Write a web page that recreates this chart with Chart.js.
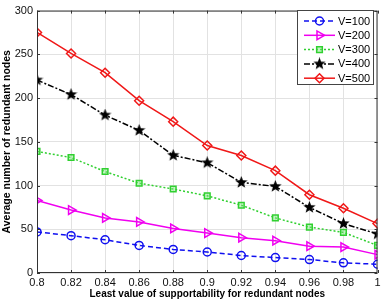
<!DOCTYPE html>
<html>
<head>
<meta charset="utf-8">
<script src="https://cdn.jsdelivr.net/npm/chart.js@4/dist/chart.umd.min.js"></script>
<style>
html,body{margin:0;padding:0;background:#fff;}
#wrap{width:385px;height:302px;position:relative;}
</style>
</head>
<body>
<div id="wrap"><canvas id="c" width="385" height="302"></canvas></div>
<script>
const xValues = [0.8, 0.82, 0.84, 0.86, 0.88, 0.9, 0.92, 0.94, 0.96, 0.98, 1.0];
const seriesNames = ["V=100", "V=200", "V=300", "V=400", "V=500"];
const v100 = [47, 42.7, 38, 31.5, 27, 24, 20, 17.6, 15.4, 11.6, 10];
const v200 = [83, 72, 63, 58.4, 51, 45.7, 40.4, 37, 30.7, 29.6, 21];
const v300 = [139, 132, 116, 102.6, 96, 88.2, 77.5, 63, 52.5, 46.4, 31.5];
const v400 = [220.6, 204, 180.5, 163, 134.5, 126, 103.5, 99, 75, 56.5, 44.6];
const v500 = [275, 251, 229, 197, 173, 145.7, 134.3, 117, 89.5, 74, 56.5];
const yTicks = [0, 50, 100, 150, 200, 250, 300];

function makeStar(size, color) {
  const cv = document.createElement('canvas');
  cv.width = size; cv.height = size;
  const g = cv.getContext('2d');
  const cx = size / 2, cy = size / 2, R = size / 2, r = R * 0.42;
  g.beginPath();
  for (let i = 0; i < 10; i++) {
    const a = -Math.PI / 2 + i * Math.PI / 5;
    const rr = i % 2 === 0 ? R : r;
    const px = cx + rr * Math.cos(a), py = cy + rr * Math.sin(a);
    if (i === 0) g.moveTo(px, py); else g.lineTo(px, py);
  }
  g.closePath();
  g.fillStyle = color; g.fill();
  return cv;
}
const starImg = makeStar(13, '#000');

const toPts = arr => arr.map((v, i) => ({x: xValues[i], y: v}));

const styles = [
  {color: '#1010f0', dash: [5, 3], point: 'circle', radius: 4, rot: 0, bg: 'rgba(0,0,0,0)'},
  {color: '#f000f0', dash: [], point: 'triangle', radius: 5, rot: 90, bg: 'rgba(0,0,0,0)'},
  {color: '#30d030', dash: [2, 2], point: 'rect', radius: 4, rot: 0, bg: 'rgba(120,230,120,0.45)'},
  {color: '#000000', dash: [6, 2, 2, 2], point: starImg, radius: 6, rot: 0, bg: '#000'},
  {color: '#f01818', dash: [], point: 'rectRot', radius: 4.5, rot: 0, bg: 'rgba(0,0,0,0)'}
];
const allSeries = [v100, v200, v300, v400, v500];

const datasets = allSeries.map((arr, i) => ({
  label: seriesNames[i],
  data: toPts(arr),
  borderColor: styles[i].color,
  backgroundColor: styles[i].bg,
  borderWidth: 1.5,
  borderDash: styles[i].dash,
  pointStyle: styles[i].point,
  pointRadius: styles[i].radius,
  pointRotation: styles[i].rot,
  pointBorderColor: styles[i].color,
  pointBackgroundColor: styles[i].bg,
  pointBorderWidth: 1.5,
  tension: 0
}));

const boxPlugin = {
  id: 'box',
  afterDraw(chart) {
    const ctx = chart.ctx, a = chart.chartArea;
    const xs = chart.scales.x, ys = chart.scales.y;
    ctx.save();
    ctx.strokeStyle = '#333';
    ctx.lineWidth = 1;
    ctx.setLineDash([]);
    ctx.strokeRect(a.left + 0.5, a.top + 0.5, a.right - a.left - 1, a.bottom - a.top - 1);
    ctx.beginPath();
    xs.ticks.forEach(t => {
      const px = Math.round(xs.getPixelForValue(t.value)) + 0.5;
      ctx.moveTo(px, a.bottom); ctx.lineTo(px, a.bottom - 3);
      ctx.moveTo(px, a.top); ctx.lineTo(px, a.top + 3);
    });
    ys.ticks.forEach(t => {
      const py = Math.round(ys.getPixelForValue(t.value)) + 0.5;
      ctx.moveTo(a.left, py); ctx.lineTo(a.left + 3, py);
      ctx.moveTo(a.right, py); ctx.lineTo(a.right - 3, py);
    });
    ctx.stroke();

    // legend
    const lx = 297, ly = 10, lw = 76, lh = 74;
    ctx.fillStyle = '#fff';
    ctx.fillRect(lx, ly, lw, lh);
    ctx.strokeStyle = '#444';
    ctx.strokeRect(lx + 0.5, ly + 0.5, lw, lh);
    ctx.font = '11px "Liberation Sans", Arial, sans-serif';
    ctx.textBaseline = 'middle';
    chart.data.datasets.forEach((ds, i) => {
      const y = 21 + i * 14.3;
      ctx.save();
      ctx.strokeStyle = ds.borderColor;
      ctx.lineWidth = 1.5;
      ctx.setLineDash(ds.borderDash);
      ctx.beginPath();
      ctx.moveTo(304, y); ctx.lineTo(335, y);
      ctx.stroke();
      ctx.setLineDash([]);
      ctx.fillStyle = ds.pointBackgroundColor;
      ctx.strokeStyle = ds.pointBorderColor;
      Chart.helpers.drawPoint(ctx, {
        pointStyle: ds.pointStyle,
        radius: ds.pointRadius,
        rotation: ds.pointRotation,
        borderWidth: 1.5
      }, 319.5, y);
      ctx.restore();
      ctx.fillStyle = '#000';
      ctx.fillText(ds.label, 338, y + 0.5);
    });
    ctx.restore();
  }
};

new Chart(document.getElementById('c'), {
  type: 'line',
  data: {datasets},
  options: {
    responsive: false,
    animation: false,
    layout: {padding: {top: 6, right: 7, left: 0, bottom: 0}},
    plugins: {legend: {display: false}, tooltip: {enabled: false}},
    scales: {
      x: {
        type: 'linear',
        min: 0.8, max: 1.0,
        afterBuildTicks: s => { s.ticks = xValues.map(v => ({value: v})); },
        afterFit: s => { s.height = 29; },
        grid: {color: '#e2e2e2', drawTicks: false},
        border: {display: false},
        ticks: {
          padding: 3,
          color: '#111',
          font: {family: '"Liberation Sans", Arial, sans-serif', size: 11},
          maxRotation: 0,
          callback: v => String(parseFloat(Number(v).toFixed(2)))
        },
        title: {
          display: true,
          text: 'Least value of supportability for redundant nodes',
          color: '#000',
          font: {family: '"Liberation Sans", Arial, sans-serif', size: 10, weight: 'bold'},
          padding: {top: 0, bottom: 2}
        }
      },
      y: {
        min: 0, max: 300,
        afterBuildTicks: s => { s.ticks = yTicks.map(v => ({value: v})); },
        afterFit: s => { s.width = 37; },
        grid: {color: '#e2e2e2', drawTicks: false},
        border: {display: false},
        ticks: {
          padding: 4,
          color: '#111',
          font: {family: '"Liberation Sans", Arial, sans-serif', size: 11}
        },
        title: {
          display: true,
          text: 'Average number of redundant nodes',
          color: '#000',
          font: {family: '"Liberation Sans", Arial, sans-serif', size: 10.5, weight: 'bold'},
          padding: {top: 0.5, bottom: 0}
        }
      }
    }
  },
  plugins: [boxPlugin]
});
</script>
</body>
</html>
